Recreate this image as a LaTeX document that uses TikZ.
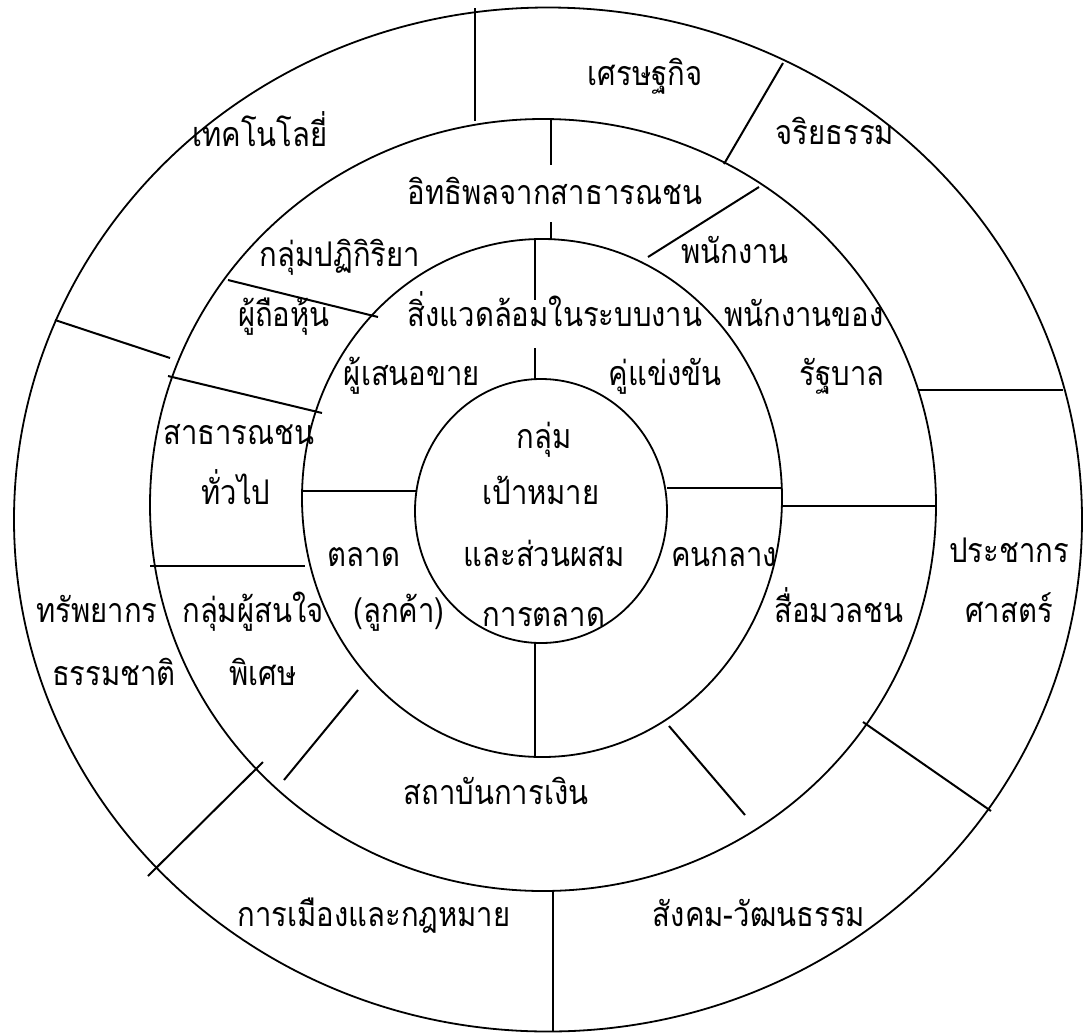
\documentclass[tikz,border=0pt]{standalone}
\usepackage{fontspec}
\newfontfamily\thaifont[Script=Thai,FakeStretch=0.86]{Loma}
\tikzset{
  ring/.style={line width=0.9pt},
  divider/.style={line width=1pt},
  lbl/.style={font=\thaifont\fontsize{17}{20}\selectfont, anchor=base, inner sep=0pt},
}
\begin{document}
\begin{tikzpicture}[x=0.5pt,y=-0.5pt]
\useasboundingbox (0,0) rectangle (1087,1034);
% the four rings
\draw[ring] (548,519.5) ellipse [x radius=534, y radius=512];
\draw[ring] (543,505) ellipse [x radius=393, y radius=386];
\draw[ring] (542,498) ellipse [x radius=240, y radius=259];
\draw[ring] (541,511) ellipse [x radius=126, y radius=132];

% outer ring
\draw[divider] (475,8) -- (475,121);
\draw[divider] (783,63) -- (724,164);
\draw[divider] (918,390) -- (1063,390);
\draw[divider] (863,722) -- (991,811);
\draw[divider] (553,891) -- (553,1032);
\draw[divider] (148,876) -- (263,762);
\draw[divider] (55,320) -- (170,358);

% second ring
\draw[divider] (551,119) -- (551,165);
\draw[divider] (551,222) -- (551,240);
\draw[divider] (759,187) -- (648,257);
\draw[divider] (782,506) -- (935,506);
\draw[divider] (669,726) -- (745,815);
\draw[divider] (358,690) -- (284,780);
\draw[divider] (150,566) -- (305,566);
\draw[divider] (168,376) -- (322,413);
\draw[divider] (228,280) -- (378,317);

% third ring
\draw[divider] (535,240) -- (535,300);
\draw[divider] (535,348) -- (535,379);
\draw[divider] (667,488) -- (782,488);
\draw[divider] (535,643) -- (535,757);
\draw[divider] (302,491) -- (416,491);

\node[lbl] (techno) at (260,146) {เทคโนโลยี่};
\node[lbl] (econ) at (645,85) {เศรษฐกิจ};
\node[lbl] (ethic) at (835,144) {จริยธรรม};
\node[lbl] (pubinf) at (555,204) {อิทธิพลจากสาธารณชน};
\node[lbl] (react) at (340,266) {กลุ่มปฏิกิริยา};
\node[lbl] (staff) at (735,263) {พนักงาน};
\node[lbl] (share) at (284,326) {ผู้ถือหุ้น};
\node[lbl] (taskenv) at (555,326) {สิ่งแวดล้อมในระบบงาน};
\node[lbl] (govA) at (804,326) {พนักงานของ};
\node[lbl] (supp) at (412,385) {ผู้เสนอขาย};
\node[lbl] (comp) at (665,385) {คู่แข่งขัน};
\node[lbl] (govB) at (842,385) {รัฐบาล};
\node[lbl] (genA) at (239,444) {สาธารณชน};
\node[lbl] (tgtA) at (544,448) {กลุ่ม};
\node[lbl] (genB) at (236,504) {ทั่วไป};
\node[lbl] (tgtB) at (541,504) {เป้าหมาย};
\node[lbl] (mktA) at (364,566) {ตลาด};
\node[lbl] (tgtC) at (544,566) {และส่วนผสม};
\node[lbl] (inter) at (724,566) {คนกลาง};
\node[lbl] (demoA) at (1009,562) {ประชากร};
\node[lbl] (natA) at (97,622) {ทรัพยากร};
\node[lbl] (specA) at (253,622) {กลุ่มผู้สนใจ};
\node[lbl] (mktB) at (399,622) {(ลูกค้า)};
\node[lbl] (tgtD) at (544,626) {การตลาด};
\node[lbl] (media) at (839,622) {สื่อมวลชน};
\node[lbl] (demoB) at (1009,622) {ศาสตร์};
\node[lbl] (natB) at (114,685) {ธรรมชาติ};
\node[lbl] (specB) at (263,685) {พิเศษ};
\node[lbl] (fin) at (496,804) {สถาบันการเงิน};
\node[lbl] (pol) at (374,926) {การเมืองและกฎหมาย};
\node[lbl] (soc) at (759,926) {สังคม-วัฒนธรรม};
\end{tikzpicture}
\end{document}
